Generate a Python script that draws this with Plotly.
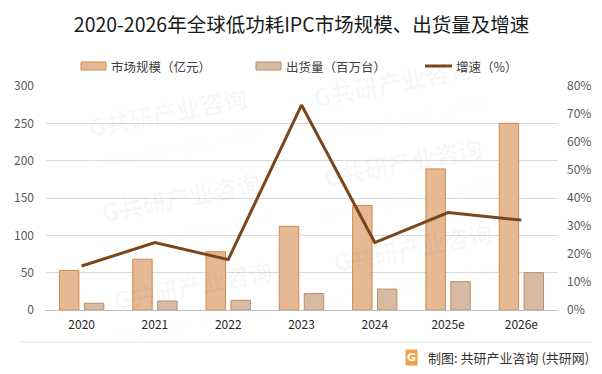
import plotly.graph_objects as go

years = ["2020", "2021", "2022", "2023", "2024", "2025e", "2026e"]
market_size = [53, 68, 78, 112, 140, 189, 250]      # 市场规模（亿元）
shipments = [9, 12, 13, 22, 28, 38, 50]             # 出货量（百万台）
growth = [15.7, 24.1, 18.0, 73.2, 24.1, 34.8, 32.1] # 增速（%）

left_ticks = [0, 50, 100, 150, 200, 250, 300]
right_ticks = [0, 10, 20, 30, 40, 50, 60, 70, 80]
right_labels = [f"{v}%" for v in right_ticks]

W, H = 602, 374
L, R, T, B = 45, 44, 86, 64
pw, ph = W - L - R, H - T - B

def px(x):
    return (x - L) / pw

def py(y):
    return (H - B - y) / ph

font_cn = "Noto Sans CJK SC, Microsoft YaHei, sans-serif"

fig = go.Figure()
fig.add_trace(go.Bar(
    x=years, y=market_size, name="市场规模（亿元）",
    marker=dict(color="#E6B995", line=dict(color="#D08A4C", width=1)),
    yaxis="y", showlegend=False,
))
fig.add_trace(go.Bar(
    x=years, y=shipments, name="出货量（百万台）",
    marker=dict(color="#D7BAA2", line=dict(color="#BC8E6C", width=1)),
    yaxis="y", showlegend=False,
))
fig.add_trace(go.Scatter(
    x=years, y=growth, name="增速（%）", mode="lines",
    line=dict(color="#7A461C", width=3),
    yaxis="y2", showlegend=False,
))

shapes = []
annotations = []

# faint watermarks (only those fully inside the picture)
wm_centers = [(170, 125), (183, 210), (195, 298),
              (395, 95), (405, 175), (415, 260)]
for cx, cy in wm_centers:
    annotations.append(dict(
        text="<b>G共研产业咨询</b><br><span style='font-size:13px'>w  w  w  .  g  o  n  y  n  .  c  o  m</span>",
        xref="paper", yref="paper", x=px(cx), y=py(cy),
        xanchor="center", yanchor="middle", showarrow=False, textangle=-11,
        font=dict(family=font_cn, size=24, color="rgba(0,0,0,0.035)")))

# manual legend
legend_items = [
    ("rect", 81, 106, "#E6B995", "#D08A4C", "市场规模（亿元）", 109),
    ("rect", 256, 281, "#D7BAA2", "#BC8E6C", "出货量（百万台）", 284),
    ("line", 425, 452, "#7A461C", "#7A461C", "增速（%）", 454),
]
for kind, x0, x1, fill, edge, label, tx in legend_items:
    if kind == "rect":
        shapes.append(dict(type="rect", xref="paper", yref="paper",
                           x0=px(x0), x1=px(x1), y0=py(70), y1=py(62),
                           fillcolor=fill, line=dict(color=edge, width=1)))
    else:
        shapes.append(dict(type="line", xref="paper", yref="paper",
                           x0=px(x0), x1=px(x1), y0=py(66), y1=py(66),
                           line=dict(color=fill, width=3)))
    annotations.append(dict(text=label, xref="paper", yref="paper",
                            x=px(tx), y=py(66), xanchor="left", yanchor="middle",
                            showarrow=False,
                            font=dict(family=font_cn, size=12.5, color="#404040")))

# bottom separator and source
shapes.append(dict(type="line", xref="paper", yref="paper",
                   x0=px(20), x1=px(592), y0=py(342), y1=py(342),
                   line=dict(color="#E3E3E3", width=1)))
annotations.append(dict(text="<b>G</b>", xref="paper", yref="paper",
                        x=px(411), y=py(357), xanchor="center", yanchor="middle",
                        showarrow=False, bgcolor="#F3A04E",
                        font=dict(family="DejaVu Sans", size=11, color="white"),
                        borderpad=1))
annotations.append(dict(text="制图: 共研产业咨询 (共研网)", xref="paper", yref="paper",
                        x=px(591), y=py(357), xanchor="right", yanchor="middle",
                        showarrow=False,
                        font=dict(family=font_cn, size=13, color="#333333")))

fig.update_layout(
    width=W, height=H,
    margin=dict(l=L, r=R, t=T, b=B, pad=0),
    paper_bgcolor="white", plot_bgcolor="white",
    title=dict(text="2020-2026年全球低功耗IPC市场规模、出货量及增速",
               x=0.5, xref="paper", xanchor="center",
               y=1 - 25 / H, yanchor="middle",
               font=dict(family=font_cn, size=19.5, color="#1a1a1a")),
    barmode="group", bargap=0.32, bargroupgap=0.22,
    xaxis=dict(type="category", showgrid=False, showline=False, ticks="",
               tickfont=dict(family=font_cn, size=12, color="#262626"),
               ticklabelstandoff=6),
    yaxis=dict(range=[0, 300], tickvals=left_ticks, showgrid=True,
               gridcolor="#D9D9D9", gridwidth=1, zeroline=True,
               zerolinecolor="#BFBFBF", zerolinewidth=1, showline=False,
               tickfont=dict(family=font_cn, size=12, color="#595959"),
               ticklabelstandoff=10),
    yaxis2=dict(range=[0, 80], tickvals=right_ticks, ticktext=right_labels,
                overlaying="y", side="right", showgrid=False, zeroline=False,
                tickfont=dict(family=font_cn, size=12, color="#595959"),
                ticklabelstandoff=8),
    shapes=shapes, annotations=annotations,
    font=dict(family=font_cn),
)

fig.write_html("out.html", config={"displayModeBar": False},
               post_script="document.body.style.margin='0';document.body.style.overflow='hidden';")
